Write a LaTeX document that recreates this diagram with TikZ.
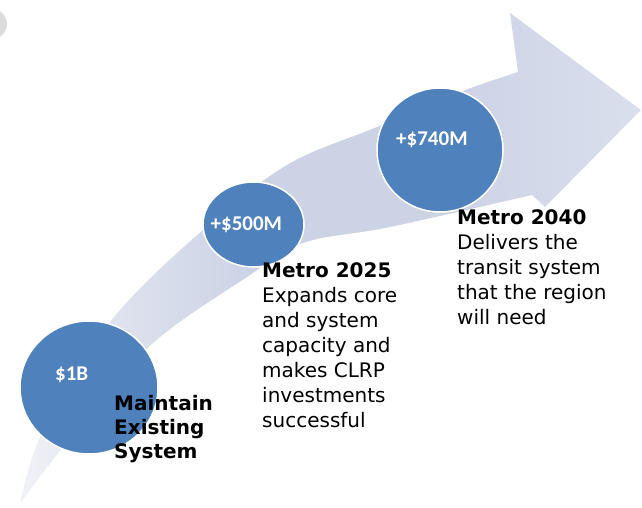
\documentclass[tikz,border=0pt]{standalone}
\usepackage{fontspec}
\setmainfont{DejaVu Sans}
\newfontfamily\numfont{Carlito}
\usetikzlibrary{shapes.geometric}
\definecolor{bubblefill}{RGB}{79,129,189}
\definecolor{bandtail}{RGB}{240,242,246}
\definecolor{bandlow}{RGB}{222,226,238}
\definecolor{bandmid}{RGB}{204,211,229}
\definecolor{bandhead}{RGB}{218,223,237}
\definecolor{blobgray}{RGB}{220,220,220}
\pgfdeclarehorizontalshading{bandshade}{100bp}{color(0bp)=(bandtail); color(25bp)=(bandtail); color(33bp)=(bandlow); color(43.5bp)=(bandmid); color(59.6bp)=(bandmid); color(75bp)=(bandhead); color(100bp)=(bandhead)}
\tikzset{
  bubble/.style={ellipse, fill=bubblefill, draw=white, line width=1.5pt, inner sep=0pt},
  amount/.style={font={\numfont\fontsize{21}{24}\selectfont\bfseries}, text=white, inner sep=0pt},
  headtxt/.style={font={\fontsize{20}{24}\selectfont\bfseries}, text=black, inner sep=0pt, anchor=base west},
  bodytxt/.style={font={\fontsize{20}{25}\selectfont}, text=black, inner sep=0pt, anchor=base west}
}
\begin{document}
\begin{tikzpicture}[x=1pt,y=-1pt]
\useasboundingbox (0,0) rectangle (642,508);
% grey fragment in the corner
\fill[blobgray] (-8,24) circle (15);
% curved arrow
\shade[shading=bandshade]
  plot[smooth, tension=0.6] coordinates {(20,504) (33,455) (62,392) (120,310) (203,230) (287,165) (377,127) (460,92) (518,72)}
  -- (510,13) -- (641,110) -- (545,207) -- (532,195)
  -- plot[smooth, tension=0.6] coordinates {(532,195) (390,227) (303,243) (247,277) (153,343) (85,420) (45,470) (20,504)}
  -- cycle;
% circles
\node[bubble, minimum width=138pt, minimum height=133pt] (c1) at (89,387.5) {};
\node[bubble, minimum width=101pt, minimum height=85pt] (c2) at (253.5,224.5) {};
\node[bubble, minimum width=126pt, minimum height=124pt] (c3) at (440,150) {};
% amounts
\node[amount, anchor=base west] (a1) at (55,380.5) {\$1B};
\node[amount, anchor=base west] (a2) at (210.5,230) {+\$500M};
\node[amount, anchor=base west] (a3) at (396,145) {+\$740M};
% descriptions
\node[headtxt] (t1) at (114,410) {\begin{tabular}[t]{@{}l@{}}Maintain\\Existing\\System\end{tabular}};
\node[bodytxt] (t2) at (262,277) {\begin{tabular}[t]{@{}l@{}}\textbf{Metro 2025}\\Expands core\\and system\\capacity and\\makes CLRP\\investments\\successful\end{tabular}};
\node[bodytxt] (t3) at (457,224) {\begin{tabular}[t]{@{}l@{}}\textbf{Metro 2040}\\Delivers the\\transit system\\that the region\\will need\end{tabular}};
\end{tikzpicture}
\end{document}
